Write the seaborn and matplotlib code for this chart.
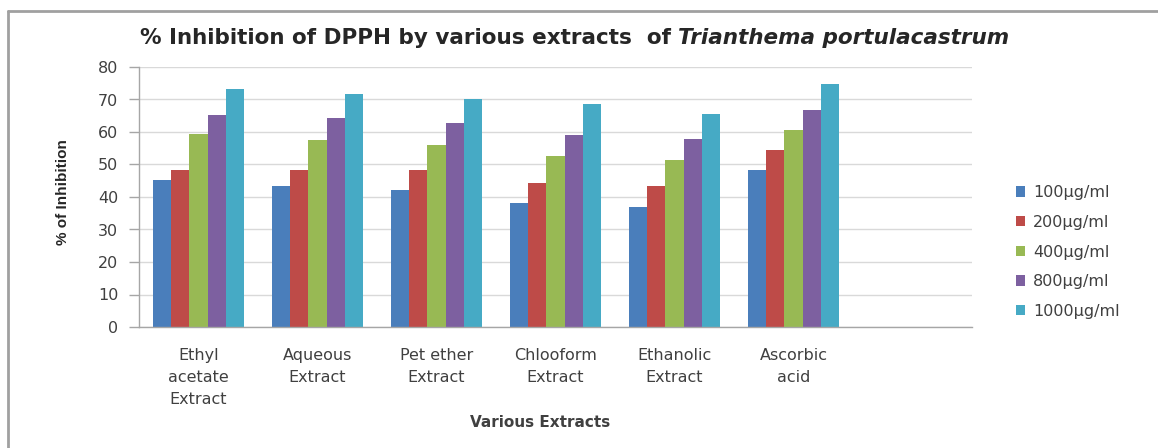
import matplotlib
matplotlib.use("Agg")
import matplotlib.pyplot as plt
from matplotlib import font_manager
from matplotlib.lines import Line2D
import seaborn as sns
import pandas as pd

# Extracts on the x axis and the five concentrations (legend entries)
extracts = ["Ethyl\nacetate\nExtract", "Aqueous\nExtract", "Pet ether\nExtract",
            "Chlooform\nExtract", "Ethanolic\nExtract", "Ascorbic\nacid"]
doses = ["100µg/ml", "200µg/ml", "400µg/ml", "800µg/ml", "1000µg/ml"]

# % inhibition of DPPH for each dose, in extract order
inh_100 = [45.3, 43.5, 42.0, 38.3, 37.0, 48.3]
inh_200 = [48.2, 48.2, 48.2, 44.2, 43.4, 54.4]
inh_400 = [59.4, 57.6, 56.1, 52.6, 51.4, 60.6]
inh_800 = [65.3, 64.3, 62.8, 59.0, 57.7, 66.9]
inh_1000 = [73.3, 71.8, 70.1, 68.5, 65.5, 74.9]

yticks = [0, 10, 20, 30, 40, 50, 60, 70, 80]

series = [inh_100, inh_200, inh_400, inh_800, inh_1000]
rows = []
for dose, vals in zip(doses, series):
    for ext, v in zip(extracts, vals):
        rows.append({"Extract": ext, "Dose": dose, "Inhibition": v})
df = pd.DataFrame(rows)

palette = ["#4A7EBB", "#BE4B48", "#98B954", "#7D60A0", "#46AAC5"]

sns.set_theme(style="white")
plt.rcParams["font.family"] = ["DejaVu Sans"]

# narrow face for the rotated axis title, if the system has one
installed = {f.name for f in font_manager.fontManager.ttflist}
narrow = "Liberation Sans Narrow" if "Liberation Sans Narrow" in installed else "Liberation Sans"

fig = plt.figure(figsize=(11.58, 4.48), dpi=100)
ax = fig.add_axes([139 / 1158, 1 - 327 / 448, (972 - 139) / 1158, (327 - 67) / 448])

sns.barplot(data=df, x="Extract", y="Inhibition", hue="Dose", hue_order=doses,
            order=extracts, palette=palette, width=0.765, saturation=1,
            linewidth=0, ax=ax, legend=True)

ax.set_xlim(-0.5, 6.5)
ax.set_ylim(0, 80)
ax.set_yticks(yticks)
ax.set_yticklabels([str(t) for t in yticks])
ax.yaxis.grid(True, color="#D9D9D9", linewidth=1.0)
ax.set_axisbelow(True)

for side in ["top", "right"]:
    ax.spines[side].set_visible(False)
for side in ["left", "bottom"]:
    ax.spines[side].set_color("#A6A6A6")
    ax.spines[side].set_linewidth(1.0)

ax.tick_params(axis="y", left=True, length=7, width=1, color="#A6A6A6",
               labelsize=11.5, labelcolor="#404040", pad=8)
ax.tick_params(axis="x", bottom=False, labelsize=11.5, labelcolor="#404040", pad=9)
for lbl in ax.get_xticklabels():
    lbl.set_linespacing(1.6)
    lbl.set_verticalalignment("top")

ax.set_xlabel("")
ax.set_ylabel("")

leg = ax.legend(loc="center left", bbox_to_anchor=(1.035, (327 - 252) / 260),
                frameon=False, fontsize=11.5, handlelength=0.6, handleheight=0.6,
                handletextpad=0.5, labelspacing=0.92)
for t in leg.get_texts():
    t.set_color("#404040")

# Title: plain part followed by the italic species name
fig.canvas.draw()
renderer = fig.canvas.get_renderer()
t1 = fig.text(140 / 1158, 1 - 38 / 448,
              "% Inhibition of DPPH by various extracts  of ",
              fontsize=15.5, fontweight="bold", color="#262626",
              ha="left", va="center")
bb = t1.get_window_extent(renderer)
fig.text(bb.x1 / fig.bbox.width, 1 - 38 / 448, "Trianthema portulacastrum",
         fontsize=15.5, fontweight="bold", style="italic", color="#262626",
         ha="left", va="center")

fig.text(63 / 1158, 1 - 192 / 448, "% of Inhibition", rotation=90,
         fontsize=11, fontweight="bold", color="#262626",
         family=[narrow, "DejaVu Sans"], fontstretch="condensed",
         ha="center", va="center")

fig.text(540 / 1158, 1 - 422 / 448, "Various Extracts", fontsize=11,
         fontweight="bold", color="#404040", ha="center", va="center")

# Chart frame (top and left edges)
fig.add_artist(Line2D([8 / 1158, 1.0], [1 - 11 / 448, 1 - 11 / 448],
                      color="#A0A0A0", linewidth=2, transform=fig.transFigure))
fig.add_artist(Line2D([8 / 1158, 8 / 1158], [0, 1 - 11 / 448],
                      color="#A0A0A0", linewidth=2, transform=fig.transFigure))

fig.savefig("out.png", dpi=100)
